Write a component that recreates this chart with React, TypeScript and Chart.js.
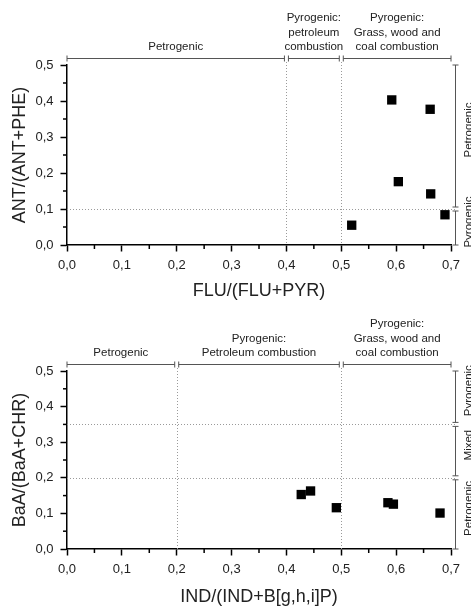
import { useEffect, useRef } from 'react';
import { Chart, registerables } from 'chart.js';

Chart.register(...registerables);

const FONT = '"Liberation Sans", Arial, Helvetica, sans-serif';
const INK = '#222222';
const BRACKET = '#555555';
const GUIDE = '#9a9a9a';

// Shared axis ticks
const xTickValues = [0, 0.1, 0.2, 0.3, 0.4, 0.5, 0.6, 0.7];
const xMinorValues = [0.05, 0.15, 0.25, 0.35, 0.45, 0.55, 0.65];
const yTickValues = [0, 0.1, 0.2, 0.3, 0.4, 0.5];
const yMinorValues = [0.05, 0.15, 0.25, 0.35, 0.45];

// Diagram 1: FLU/(FLU+PYR) vs ANT/(ANT+PHE)
const fluRatio = [0.519, 0.592, 0.604, 0.662, 0.663, 0.689];
const antRatio = [0.055, 0.403, 0.176, 0.377, 0.142, 0.084];
const fluBounds = [0, 0.4, 0.5, 0.7];
const fluSources = [
  ['Petrogenic'],
  ['Pyrogenic:', 'petroleum', 'combustion'],
  ['Pyrogenic:', 'Grass, wood and', 'coal combustion'],
];
const antBounds = [0, 0.1, 0.5];
const antSources = ['Pyrogenic', 'Petrogenic'];

// Diagram 2: IND/(IND+B[g,h,i]P) vs BaA/(BaA+CHR)
const indRatio = [0.427, 0.444, 0.491, 0.585, 0.595, 0.68];
const baaRatio = [0.153, 0.163, 0.116, 0.13, 0.126, 0.101];
const indBounds = [0, 0.2, 0.5, 0.7];
const indSources = [
  ['Petrogenic'],
  ['Pyrogenic:', 'Petroleum combustion'],
  ['Pyrogenic:', 'Grass, wood and', 'coal combustion'],
];
const baaBounds = [0, 0.2, 0.35, 0.5];
const baaSources = ['Petrogenic', 'Mixed', 'Pyrogenic'];

type RegionOpts = {
  xBounds: number[];
  xLabels: string[][];
  yBounds: number[];
  yLabels: string[];
};

const fmt = (v: number) => Number(v).toFixed(1).replace('.', ',');

// Guide lines at source boundaries, brackets with source names, minor ticks
const regionsPlugin = {
  id: 'regions',
  beforeDatasetsDraw(chart: any, _args: any, opts: RegionOpts) {
    const { ctx, chartArea: a } = chart;
    const x = chart.scales.x;
    const y = chart.scales.y;
    ctx.save();
    ctx.strokeStyle = GUIDE;
    ctx.lineWidth = 1;
    ctx.setLineDash([1, 2]);
    opts.xBounds.slice(1, -1).forEach((v) => {
      const px = Math.round(x.getPixelForValue(v)) + 0.5;
      ctx.beginPath();
      ctx.moveTo(px, a.top - 3);
      ctx.lineTo(px, a.bottom);
      ctx.stroke();
    });
    opts.yBounds.slice(1, -1).forEach((v) => {
      const py = Math.round(y.getPixelForValue(v)) + 0.5;
      ctx.beginPath();
      ctx.moveTo(a.left, py);
      ctx.lineTo(a.right + 4, py);
      ctx.stroke();
    });
    ctx.restore();
  },
  afterDraw(chart: any, _args: any, opts: RegionOpts) {
    const { ctx, chartArea: a } = chart;
    const x = chart.scales.x;
    const y = chart.scales.y;
    ctx.save();

    // minor ticks
    ctx.strokeStyle = '#000';
    ctx.lineWidth = 1.5;
    xMinorValues.forEach((v) => {
      const px = x.getPixelForValue(v);
      ctx.beginPath();
      ctx.moveTo(px, a.bottom);
      ctx.lineTo(px, a.bottom + 4);
      ctx.stroke();
    });
    yMinorValues.forEach((v) => {
      const py = y.getPixelForValue(v);
      ctx.beginPath();
      ctx.moveTo(a.left, py);
      ctx.lineTo(a.left - 4, py);
      ctx.stroke();
    });

    ctx.strokeStyle = BRACKET;
    ctx.lineWidth = 1;
    ctx.fillStyle = INK;
    ctx.font = `11.5px ${FONT}`;
    ctx.textAlign = 'center';
    ctx.textBaseline = 'middle';

    // top brackets
    const by = a.top - 6.5;
    const nx = opts.xBounds.length - 1;
    for (let i = 0; i < nx; i++) {
      let x1 = x.getPixelForValue(opts.xBounds[i]);
      let x2 = x.getPixelForValue(opts.xBounds[i + 1]);
      if (i > 0) x1 += 2;
      if (i < nx - 1) x2 -= 2;
      ctx.beginPath();
      ctx.moveTo(x1, by);
      ctx.lineTo(x2, by);
      ctx.moveTo(x1, by - 3);
      ctx.lineTo(x1, by + 3);
      ctx.moveTo(x2, by - 3);
      ctx.lineTo(x2, by + 3);
      ctx.stroke();
      const lines = opts.xLabels[i];
      const cx = (x1 + x2) / 2;
      lines.forEach((t, k) => {
        ctx.fillText(t, cx, by - 11.5 - (lines.length - 1 - k) * 14.5);
      });
    }

    // right brackets
    const bx = a.right + 4.5;
    const ny = opts.yBounds.length - 1;
    for (let i = 0; i < ny; i++) {
      let y1 = y.getPixelForValue(opts.yBounds[i]);
      let y2 = y.getPixelForValue(opts.yBounds[i + 1]);
      if (i > 0) y1 -= 2;
      if (i < ny - 1) y2 += 2;
      ctx.beginPath();
      ctx.moveTo(bx, y1);
      ctx.lineTo(bx, y2);
      ctx.moveTo(bx - 3, y1);
      ctx.lineTo(bx + 3, y1);
      ctx.moveTo(bx - 3, y2);
      ctx.lineTo(bx + 3, y2);
      ctx.stroke();
      ctx.save();
      ctx.translate(bx + 13, (y1 + y2) / 2 - 6);
      ctx.rotate(-Math.PI / 2);
      ctx.fillText(opts.yLabels[i], 0, 0);
      ctx.restore();
    }
    ctx.restore();
  },
};

type PanelProps = {
  height: number;
  top: number;
  axisHeight: number;
  xTitlePad: number;
  xs: number[];
  ys: number[];
  xTitle: string;
  yTitle: string;
  regions: RegionOpts;
};

function Panel({ height, top, axisHeight, xTitlePad, xs, ys, xTitle, yTitle, regions }: PanelProps) {
  const ref = useRef<HTMLCanvasElement | null>(null);

  useEffect(() => {
    if (!ref.current) return;
    const chart = new Chart(ref.current, {
      type: 'scatter',
      data: {
        datasets: [
          {
            data: xs.map((v, i) => ({ x: v, y: ys[i] })),
            backgroundColor: '#000',
            borderWidth: 0,
            pointStyle: 'rect',
            pointRadius: 6.6,
          },
        ],
      },
      options: {
        responsive: false,
        animation: false,
        events: [],
        devicePixelRatio: 1,
        layout: { padding: { top, left: 0, right: 20, bottom: 0 } },
        plugins: {
          legend: { display: false },
          tooltip: { enabled: false },
          regions,
        } as any,
        scales: {
          x: {
            type: 'linear',
            min: 0,
            max: 0.7,
            afterBuildTicks: (s: any) => {
              s.ticks = xTickValues.map((v) => ({ value: v }));
            },
            afterFit: (s: any) => {
              s.height = axisHeight;
            },
            border: { display: true, color: '#000', width: 1.5 },
            grid: { display: true, drawOnChartArea: false, drawTicks: true, tickLength: 6.5, tickWidth: 1.5, tickColor: '#000' },
            ticks: {
              autoSkip: false,
              padding: 6,
              color: INK,
              font: { family: FONT, size: 13 },
              callback: (v: any) => fmt(v),
            },
            title: {
              display: true,
              text: xTitle,
              color: INK,
              font: { family: FONT, size: 18, lineHeight: 1 },
              padding: { top: xTitlePad, bottom: 0 },
            },
          },
          y: {
            type: 'linear',
            min: 0,
            max: 0.5,
            afterBuildTicks: (s: any) => {
              s.ticks = yTickValues.map((v) => ({ value: v }));
            },
            afterFit: (s: any) => {
              s.width = 67;
            },
            border: { display: true, color: '#000', width: 1.5 },
            grid: { display: true, drawOnChartArea: false, drawTicks: true, tickLength: 6.5, tickWidth: 1.5, tickColor: '#000' },
            ticks: {
              autoSkip: false,
              padding: 7,
              color: INK,
              font: { family: FONT, size: 13 },
              callback: (v: any) => fmt(v),
            },
            title: {
              display: true,
              text: yTitle,
              color: INK,
              font: { family: FONT, size: 18, lineHeight: 1 },
              padding: { top: 11, bottom: 0 },
            },
          },
        },
      },
      plugins: [regionsPlugin as any],
    });
    return () => chart.destroy();
  }, []);

  return (
    <div style={{ position: 'relative', width: 471, height }}>
      <canvas ref={ref} width={471} height={height} style={{ display: 'block' }} />
    </div>
  );
}

export default function App() {
  return (
    <div style={{ position: 'absolute', left: 0, top: 0, width: 471, height: 606, background: '#fff' }}>
      <Panel
        height={300}
        top={65}
        axisHeight={55}
        xTitlePad={0}
        xs={fluRatio}
        ys={antRatio}
        xTitle="FLU/(FLU+PYR)"
        yTitle="ANT/(ANT+PHE)"
        regions={{ xBounds: fluBounds, xLabels: fluSources, yBounds: antBounds, yLabels: antSources }}
      />
      <Panel
        height={306}
        top={71}
        axisHeight={57}
        xTitlePad={4}
        xs={indRatio}
        ys={baaRatio}
        xTitle="IND/(IND+B[g,h,i]P)"
        yTitle="BaA/(BaA+CHR)"
        regions={{ xBounds: indBounds, xLabels: indSources, yBounds: baaBounds, yLabels: baaSources }}
      />
    </div>
  );
}
